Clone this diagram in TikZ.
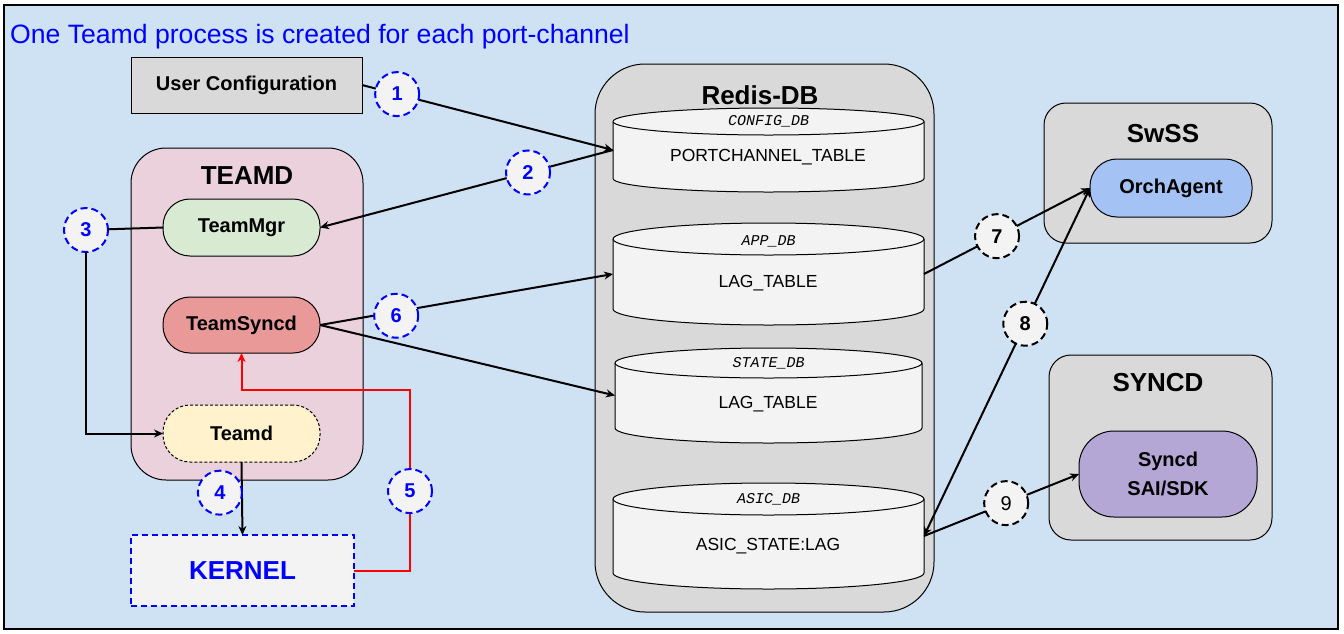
\documentclass[tikz,border=0pt]{standalone}
\usepackage[x11names, rgb]{xcolor}
\usepackage{fontspec}
\setmainfont{Liberation Sans}
\setmonofont{Liberation Mono}
\usepackage{tikz}
\usetikzlibrary{arrows.meta,shapes}

\definecolor{skyback}{HTML}{CFE2F3}
\definecolor{greybox}{HTML}{D9D9D9}
\definecolor{teamdpink}{HTML}{EAD1DC}
\definecolor{mgrgreen}{HTML}{D9EAD3}
\definecolor{syncred}{HTML}{EA9999}
\definecolor{teamdyellow}{HTML}{FFF2CC}
\definecolor{lightfill}{HTML}{F3F3F3}
\definecolor{orchblue}{HTML}{A4C2F4}
\definecolor{saipurple}{HTML}{B4A7D6}

% drum outline round a db body node: node, half width, y radius
\newcommand{\dbdrum}[3]{%
	\filldraw[dbline] (#1.north west) -- (#1.south west)
		arc[start angle=180, end angle=360, x radius=#2, y radius=#3] -- (#1.north east)
		arc[start angle=0, end angle=180, x radius=#2, y radius=#3] -- cycle;
	\draw[dbline] (#1.north west) arc[start angle=180, end angle=360, x radius=#2, y radius=#3];
}

\begin{document}
\begin{tikzpicture}
[x=1pt, y=-1pt]
\tikzset{
	group/.style = {rectangle, draw, line width=1pt, fill=greybox, inner sep=0, outer sep=0},
	grouptitle/.style = {font=\fontsize{26}{30}\selectfont\bfseries},
	proc/.style = {rectangle, rounded corners=27pt, draw, line width=1pt, inner sep=0, outer sep=0,
		minimum width=157pt, minimum height=57pt, align=center, font=\fontsize{20}{29}\selectfont\bfseries},
	stepblue/.style = {circle, draw=blue, line width=2pt, dash pattern=on 7pt off 4pt, fill=lightfill,
		minimum size=44pt, inner sep=0, outer sep=0, text=blue, font=\fontsize{20}{24}\selectfont\bfseries},
	stepblack/.style = {stepblue, draw=black, text=black},
	link/.style = {line width=2pt, -{Stealth[length=9pt, width=8pt]}},
	dbbody/.style = {rectangle, inner sep=0, outer sep=0, minimum width=311pt},
	dbline/.style = {line width=1pt, fill=lightfill},
	dbhead/.style = {font=\fontsize{15}{18}\selectfont\ttfamily\itshape},
	dbtab/.style = {font=\fontsize{17.5}{21}\selectfont}
}

\useasboundingbox (0,0) rectangle (1344,633);
\fill[white] (0,0) rectangle (1344,633);
\draw[line width=2pt, fill=skyback] (4,5) rectangle (1338,629);

\node (headline) [anchor=base west, inner sep=0, text=blue, font=\fontsize{26.6}{30}\selectfont]
	at (10,43) {One Teamd process is created for each port-channel};

% groups
\node (teamdgrp) [group, fill=teamdpink, rounded corners=35pt, minimum width=232pt, minimum height=332pt] at (247,314) {};
\node (redisgrp) [group, rounded corners=50pt, minimum width=339pt, minimum height=548pt] at (764.5,338) {};
\node (swssgrp) [group, rounded corners=22pt, minimum width=228pt, minimum height=140pt] at (1158,173) {};
\node (syncdgrp) [group, rounded corners=22pt, minimum width=223pt, minimum height=185pt] at (1160.5,447.5) {};
\node (teamdtitle) [grouptitle] at (247,176) {TEAMD};
\node (redistitle) [grouptitle] at (760,95) {Redis-DB};
\node (swsstitle) [grouptitle] at (1163,134) {SwSS};
\node (syncdtitle) [grouptitle] at (1158,383) {SYNCD};

% databases
\node (cfgdb) [dbbody, minimum height=57pt] at (768.5,150) {};
\node (appdb) [dbbody, minimum height=70pt] at (768.5,274) {};
\node (statedb) [dbbody, minimum width=307pt, minimum height=65pt] at (768.5,395.5) {};
\node (asicdb) [dbbody, minimum height=74pt] at (768.5,536) {};
\dbdrum{cfgdb}{155.5pt}{13.5pt}
\dbdrum{appdb}{155.5pt}{16pt}
\dbdrum{statedb}{153.5pt}{15pt}
\dbdrum{asicdb}{155.5pt}{16pt}
\node (cfghead) [dbhead] at (cfgdb.north) {CONFIG\_DB};
\node (apphead) [dbhead] at ([yshift=-2pt]appdb.north) {APP\_DB};
\node (statehead) [dbhead] at (statedb.north) {STATE\_DB};
\node (asichead) [dbhead] at (asicdb.north) {ASIC\_DB};
\node (cfgtab) [dbtab] at (768,157) {PORTCHANNEL\_TABLE};
\node (apptab) [dbtab] at (768,283) {LAG\_TABLE};
\node (statetab) [dbtab] at (768,404) {LAG\_TABLE};
\node (asictab) [dbtab] at (768,546) {ASIC\_STATE:LAG};

% processes
\node (usercfg) [proc, rounded corners=0pt, fill=greybox, minimum width=231pt, minimum height=56pt] at (246.5,85) {User Configuration};
\node (teammgr) [proc, fill=mgrgreen] at (241.5,227.5) {TeamMgr};
\node (teamsyncd) [proc, fill=syncred, minimum height=56pt] at (241.5,325) {TeamSyncd};
\node (teamd) [proc, fill=teamdyellow, dash pattern=on 3pt off 2pt] at (241.5,433.5) {Teamd};
\node (kernel) [proc, rounded corners=0pt, fill=lightfill, draw=blue, line width=1.5pt, dash pattern=on 6pt off 4pt,
	minimum width=223pt, minimum height=71pt, text=blue, font=\fontsize{26}{30}\selectfont\bfseries] at (242.5,570.5) {KERNEL};
\node (orchagent) [proc, fill=orchblue, minimum width=162pt, minimum height=58pt] at (1171,188) {OrchAgent};
\node (syncd) [proc, fill=saipurple, rounded corners=35pt, minimum width=178pt, minimum height=86pt] at (1168,474) {Syncd\\SAI/SDK};

% connectors
\node (c3) [stepblue] at (86,230) {3};
\draw [line width=2pt] (teammgr.west) -- (c3);
\draw [link] (c3) |- (teamd.west);
\draw [link] (usercfg.east) -- node [stepblue, pos=0.14] (c1) {1} (cfgdb.west);
\draw [link] (cfgdb.west) -- node [stepblue, pos=0.29] (c2) {2} (teammgr.east);
\draw [link] (teamd.south) -- node [stepblue, pos=0.42, anchor=east] (c4) {4} (kernel.north);
\coordinate (redturn) at (410,390);
\draw [link, red] (kernel.east) -| node [stepblue, pos=0.72] (c5) {5} (redturn) -| (teamsyncd.south);
\draw [link] (teamsyncd.east) -- node [stepblue, pos=0.26, yshift=-4pt] (c6) {6} (appdb.west);
\draw [link] (teamsyncd.east) -- (statedb.west);
\draw [link] (appdb.east) -- node [stepblack, pos=0.44] (c7) {7} (orchagent.west);
\draw [link, {Stealth[length=9pt, width=8pt]}-{Stealth[length=9pt, width=8pt]}] (asicdb.east) -- node [stepblack, pos=0.61] (c8) {8} (orchagent.west);
\draw [link] (asicdb.east) -- node [stepblack, pos=0.53, font=\fontsize{20}{24}\selectfont] (c9) {9} (syncd.west);
\end{tikzpicture}
\end{document}
